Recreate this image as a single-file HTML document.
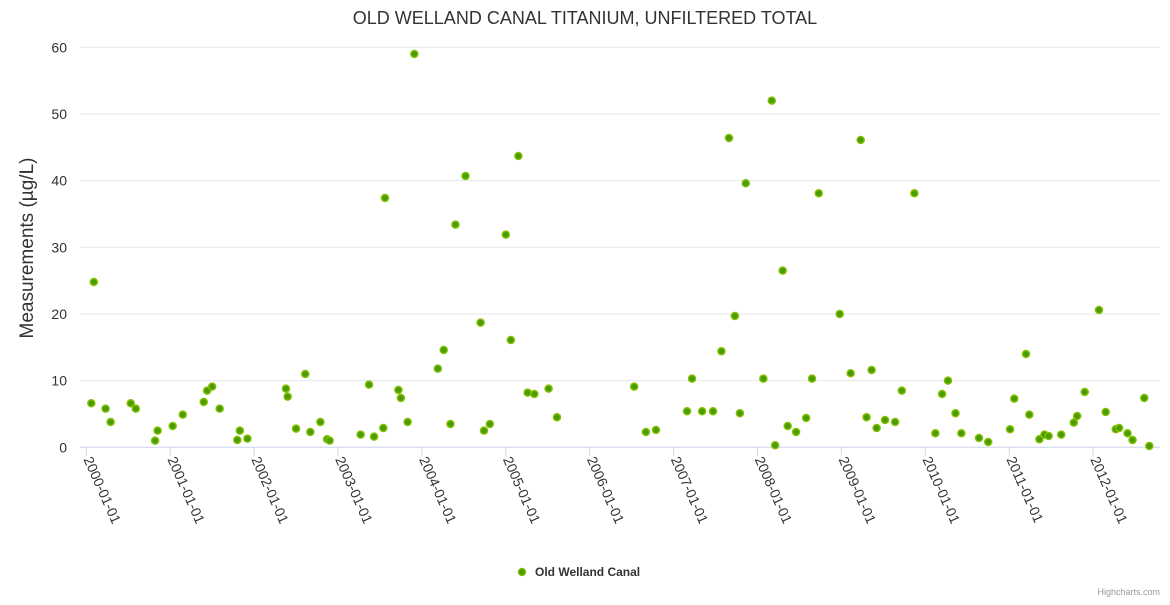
<!DOCTYPE html>
<html><head><meta charset="utf-8"><style>
body{margin:0;background:#fff;}
svg{font-family:"Liberation Sans",sans-serif;}
</style></head><body>
<svg id="chart" width="1170" height="600" xmlns="http://www.w3.org/2000/svg">
<text x="585" y="24" text-anchor="middle" font-size="18" fill="#333">OLD WELLAND CANAL TITANIUM, UNFILTERED TOTAL</text>
<text transform="translate(33,248) rotate(-90)" text-anchor="middle" font-size="19" fill="#333">Measurements (µg/L)</text>
<g id="grid"></g><g id="xaxis"></g><g id="points"></g>
<g>
<circle cx="522" cy="572" r="3.5" fill="#4a9a00" stroke="#80c000" stroke-width="1.5"/>
<text x="535" y="576" font-size="12" font-weight="bold" fill="#333">Old Welland Canal</text>
</g>
<text x="1160" y="595" text-anchor="end" font-size="9" fill="#999">Highcharts.com</text>
</svg>
<script>
const yTicks=[0,10,20,30,40,50,60];
const xTickYears=[2000,2001,2002,2003,2004,2005,2006,2007,2008,2009,2010,2011,2012];
const dates=[2000.06,2000.09,2000.23,2000.29,2000.53,2000.59,2000.82,2000.85,2001.03,2001.15,2001.40,2001.44,2001.50,2001.59,2001.80,2001.83,2001.92,2002.38,2002.40,2002.50,2002.61,2002.67,2002.79,2002.87,2002.90,2003.27,2003.37,2003.43,2003.54,2003.56,2003.72,2003.75,2003.83,2003.91,2004.19,2004.26,2004.34,2004.40,2004.52,2004.70,2004.74,2004.81,2005.00,2005.06,2005.15,2005.26,2005.34,2005.51,2005.61,2006.53,2006.67,2006.79,2007.16,2007.22,2007.34,2007.47,2007.57,2007.66,2007.73,2007.79,2007.86,2008.07,2008.17,2008.21,2008.30,2008.36,2008.46,2008.58,2008.65,2008.73,2008.98,2009.11,2009.23,2009.30,2009.36,2009.42,2009.52,2009.64,2009.72,2009.87,2010.12,2010.20,2010.27,2010.36,2010.43,2010.64,2010.75,2011.01,2011.06,2011.20,2011.24,2011.36,2011.42,2011.47,2011.62,2011.77,2011.81,2011.90,2012.07,2012.15,2012.27,2012.31,2012.41,2012.47,2012.61,2012.67];
const values=[6.6,24.8,5.8,3.8,6.6,5.8,1.0,2.5,3.2,4.9,6.8,8.5,9.1,5.8,1.1,2.5,1.3,8.8,7.6,2.8,11.0,2.3,3.8,1.2,1.0,1.9,9.4,1.6,2.9,37.4,8.6,7.4,3.8,59.0,11.8,14.6,3.5,33.4,40.7,18.7,2.5,3.5,31.9,16.1,43.7,8.2,8.0,8.8,4.5,9.1,2.3,2.6,5.4,10.3,5.4,5.4,14.4,46.4,19.7,5.1,39.6,10.3,52.0,0.3,26.5,3.2,2.3,4.4,10.3,38.1,20.0,11.1,46.1,4.5,11.6,2.9,4.1,3.8,8.5,38.1,2.1,8.0,10.0,5.1,2.1,1.4,0.8,2.7,7.3,14.0,4.9,1.2,1.9,1.7,1.9,3.7,4.7,8.3,20.6,5.3,2.7,2.9,2.1,1.1,7.4,0.2];
const NS="http://www.w3.org/2000/svg";
const L=80,R=1160,Y0=447.3,PPU=6.667;
function xs(t){return 86.3+(t-2000)*83.9;}
function ys(v){return Y0-v*PPU;}
function mk(tag,attrs,parent){const e=document.createElementNS(NS,tag);for(const k in attrs)e.setAttribute(k,attrs[k]);parent.appendChild(e);return e;}
const grid=document.getElementById('grid');
yTicks.forEach(v=>{
 const ln=mk('line',{x1:L,x2:R,y1:ys(v),y2:ys(v),stroke:v===0?'#ccd6eb':'#e6e6e6','stroke-width':1},grid);
 
 
 const t=mk('text',{x:67,y:ys(v)+5,'text-anchor':'end','font-size':14,fill:'#333'},grid);
 t.textContent=v;
 
 
});
const xa=document.getElementById('xaxis');
xTickYears.forEach(yr=>{
 const x=xs(yr);
 const tk=mk('line',{x1:x,x2:x,y1:Y0,y2:Y0+8,stroke:'#ccd6eb'},xa);
 
 
 const t=mk('text',{transform:`translate(${x-3},${Y0+12}) rotate(66)`,'font-size':14,fill:'#333'},xa);
 t.textContent=yr+'-01-01';
 
 
});
const pg=document.getElementById('points');
dates.forEach((d,i)=>{
 const c=mk('circle',{cx:xs(d),cy:ys(values[i]),r:3.5,fill:'#4a9a00',stroke:'#80c000','stroke-width':1.5},pg);
 
 
});
</script>
</body></html>
